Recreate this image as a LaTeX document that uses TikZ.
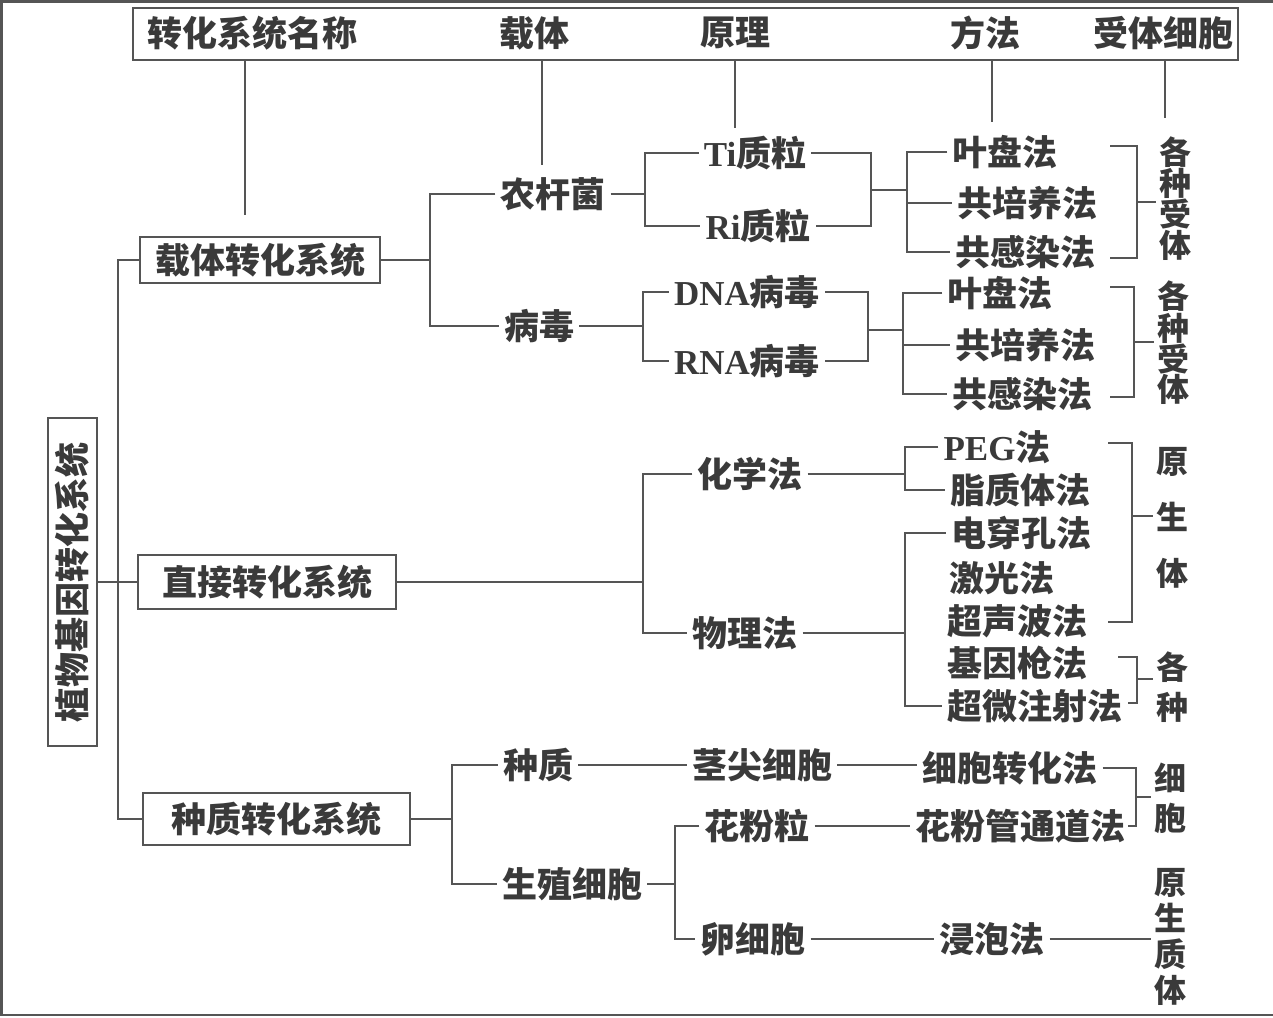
\documentclass[tikz,border=0pt]{standalone}
\usepackage{fontspec}
\newfontfamily\cjk{Noto Sans CJK SC}
\newfontfamily\lat{Liberation Serif}
\usepackage{tikz}
\usetikzlibrary{positioning}
\definecolor{ink}{HTML}{3A3A3A}
\definecolor{wire}{HTML}{555555}

\begin{document}
\begin{tikzpicture}[x=1pt, y=-1pt,
lbl/.style={inner sep=5pt, text=ink, font=\cjk\bfseries\fontsize{35}{38}\selectfont},
box/.style={lbl, rectangle, draw=wire, line width=2.8pt, inner sep=0pt},
stack/.style={lbl, align=center, inner sep=3pt, font=\cjk\bfseries\fontsize{32}{#1}\selectfont},
link/.style={draw=wire, line width=2.8pt}]

\useasboundingbox (0,0) rectangle (1273,1017);
\draw[link] (1273,1.5) -- (1.5,1.5) -- (1.5,1015) -- (1273,1015);

% header
\node[box, minimum width=1105pt, minimum height=52pt] (hdr) at (685.5,34) {};
\node[lbl] (h1) at (252,33) {转化系统名称};
\node[lbl] (h2) at (534,33) {载体};
\node[lbl] (h3) at (735,33) {原理};
\node[lbl] (h4) at (985,33) {方法};
\node[lbl] (h5) at (1163,33) {受体细胞};
\coordinate (e1) at (245,215);
\coordinate (e2) at (542,165);
\coordinate (e3) at (735,128);
\coordinate (e4) at (992,122);
\coordinate (e5) at (1165,118);
\draw[link] (hdr.south -| e1) -- (e1);
\draw[link] (hdr.south -| e2) -- (e2);
\draw[link] (hdr.south -| e3) -- (e3);
\draw[link] (hdr.south -| e4) -- (e4);
\draw[link] (hdr.south -| e5) -- (e5);

% root and systems
\node[box, rotate=90, minimum width=328pt, minimum height=49pt] (root) at (72.5,582) {植物基因转化系统};
\node[box, minimum width=240pt, minimum height=46pt] (zt) at (260,260) {载体转化系统};
\node[box, minimum width=258pt, minimum height=54pt] (zj) at (267,582) {直接转化系统};
\node[box, minimum width=267pt, minimum height=52pt] (zz) at (276.5,819) {种质转化系统};
\coordinate (tk) at (118,582);
\draw[link] (zt.west) -| (tk) |- (zz.west);
\draw[link] (root.south) -- (zj.west);

% vector system
\node[lbl] (nong) at (553,194) {农杆菌};
\node[lbl] (bing) at (539,326) {病毒};
\coordinate (j1) at (430,260);
\draw[link] (zt.east) -- (j1);
\draw[link] (nong.west) -| (j1) |- (bing.west);

\node[lbl] (ti) at (755,153) {{\lat Ti}质粒};
\node[lbl] (ri) at (758,226) {{\lat Ri}质粒};
\coordinate (j2) at (645,194);
\coordinate (j3) at (871,190);
\coordinate (j4) at (907,190);
\draw[link] (nong.east) -- (j2);
\draw[link] (ti.west) -| (j2) |- (ri.west);
\draw[link] (ti.east) -| (j3) |- (ri.east);
\draw[link] (j3) -- (j4);

\node[lbl] (yp1) at (1005,152) {叶盘法};
\node[lbl] (gp1) at (1027,203) {共培养法};
\node[lbl] (gg1) at (1025,252) {共感染法};
\draw[link] (yp1.west) -| (j4) |- (gg1.west);
\draw[link] (j4 |- gp1) -- (gp1.west);

\node[stack=31pt] (sk1) at (1175,199) {各\\种\\受\\体};
\coordinate (b1t) at (1110,146);
\coordinate (b1) at (1137,202);
\coordinate (b1b) at (1110,258);
\draw[link] (b1t) -| (b1) |- (b1b);
\draw[link] (b1) -- (sk1.west |- b1);

\node[lbl] (dna) at (747,292) {{\lat DNA}病毒};
\node[lbl] (rna) at (747,361) {{\lat RNA}病毒};
\coordinate (j5) at (643,326);
\coordinate (j6) at (868,330);
\coordinate (j7) at (903,330);
\draw[link] (bing.east) -- (j5);
\draw[link] (dna.west) -| (j5) |- (rna.west);
\draw[link] (dna.east) -| (j6) |- (rna.east);
\draw[link] (j6) -- (j7);

\node[lbl] (yp2) at (1000,293) {叶盘法};
\node[lbl] (gp2) at (1025,345) {共培养法};
\node[lbl] (gg2) at (1022,394) {共感染法};
\draw[link] (yp2.west) -| (j7) |- (gg2.west);
\draw[link] (j7 |- gp2) -- (gp2.west);

\node[stack=30pt] (sk2) at (1173,343) {各\\种\\受\\体};
\coordinate (b2t) at (1110,287);
\coordinate (b2) at (1134,342);
\coordinate (b2b) at (1110,397);
\draw[link] (b2t) -| (b2) |- (b2b);
\draw[link] (b2) -- (sk2.west |- b2);

% direct system
\node[lbl] (hx) at (750,474) {化学法};
\node[lbl] (wl) at (745,633) {物理法};
\coordinate (j8) at (643,582);
\draw[link] (zj.east) -- (j8);
\draw[link] (hx.west) -| (j8) |- (wl.west);

\node[lbl] (peg) at (997,447) {{\lat PEG}法};
\node[lbl] (zhi) at (1020,490) {脂质体法};
\coordinate (j9) at (905,474);
\draw[link] (hx.east) -- (j9);
\draw[link] (peg.west) -| (j9) |- (zhi.west);

\node[lbl] (dc) at (1021,533) {电穿孔法};
\node[lbl] (jg) at (1002,578) {激光法};
\node[lbl] (cs) at (1017,621) {超声波法};
\node[lbl] (jy) at (1017,663) {基因枪法};
\node[lbl] (cw) at (1035,706) {超微注射法};
\coordinate (j10) at (905,633);
\draw[link] (wl.east) -- (j10);
\draw[link] (dc.west) -| (j10) |- (cw.west);

\node[stack=56pt] (sk3) at (1172,518) {原\\生\\体};
\coordinate (b3t) at (1108,443);
\coordinate (b3) at (1132,516);
\coordinate (b3b) at (1108,622);
\draw[link] (b3t) -| (b3) |- (b3b);
\draw[link] (b3) -- (sk3.west |- b3);

\node[stack=40pt] (sk4) at (1172,687) {各\\种};
\coordinate (b4t) at (1118,657);
\coordinate (b4) at (1137,679);
\coordinate (b4b) at (1128,703);
\draw[link] (b4t) -| (b4) |- (b4b);
\draw[link] (b4) -- (sk4.west |- b4);

% germplasm system
\node[lbl] (zh) at (538,765) {种质};
\node[lbl] (sz) at (572,884) {生殖细胞};
\coordinate (j11) at (452,819);
\draw[link] (zz.east) -- (j11);
\draw[link] (zh.west) -| (j11) |- (sz.west);

\node[lbl] (jj) at (762,765) {茎尖细胞};
\node[lbl] (xb) at (1010,768) {细胞转化法};
\draw[link] (zh.east) -- (jj.west);
\draw[link] (jj.east) -- (jj.east -| xb.west);

\node[stack=40pt] (sk5) at (1170,798) {细\\胞};
\coordinate (b5) at (1136,797);
\coordinate (b5b) at (1128,826);
\draw[link] (xb.east) -| (b5) |- (b5b);
\draw[link] (b5) -- (sk5.west |- b5);

\node[lbl] (hf) at (757,826) {花粉粒};
\node[lbl] (luan) at (753,939) {卵细胞};
\coordinate (j12) at (675,884);
\draw[link] (sz.east) -- (j12);
\draw[link] (hf.west) -| (j12) |- (luan.west);

\node[lbl] (hg) at (1020,826) {花粉管通道法};
\draw[link] (hf.east) -- (hg.west);

\node[lbl] (jp) at (992,939) {浸泡法};
\node[stack=36pt] (sk6) at (1170,937) {原\\生\\质\\体};
\draw[link] (luan.east) -- (jp.west);
\draw[link] (jp.east) -- (sk6.west |- jp.east);
\end{tikzpicture}
\end{document}
